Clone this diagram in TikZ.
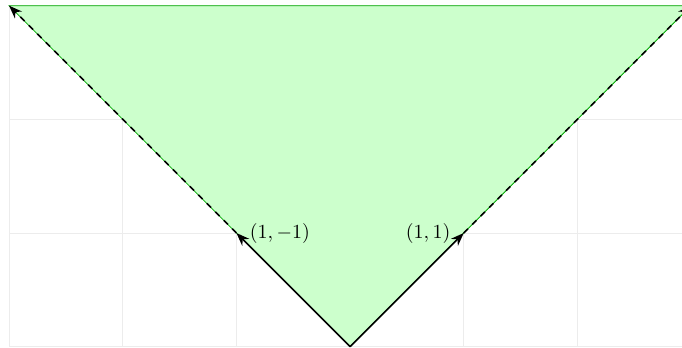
\documentclass[tikz,border=0pt]{standalone}
\usepackage{xcolor}
\usepackage{tikz}
\usetikzlibrary{arrows.meta}

\begin{document}
\begin{tikzpicture}[scale=2, >=Stealth, vec/.style={thick,->}]
    \useasboundingbox (-3.08,-0.01) rectangle (2.92,3.05);

    % Griglia
    \draw[gray!15] (-3,0) grid (3,3);
    \coordinate (O) at (0,0);
    \coordinate (A) at (-1,1);
    \coordinate (B) at (1,1);
    \coordinate (C) at (-3,3);
    \coordinate (D) at (3,3);

    % Cono
    \filldraw[fill=green!20, draw=green!65!black] (O) -- (C) -- (D) -- cycle;
    \draw[vec] (O) -- (A) node[right, xshift=3pt] {$(1,-1)$};
    \draw[vec] (O) -- (B) node[left, xshift=-3pt] {$(1,1)$};
    \draw[vec, dashed] (A) -- (C);
    \draw[vec, dashed] (B) -- (D);
\end{tikzpicture}
\end{document}
